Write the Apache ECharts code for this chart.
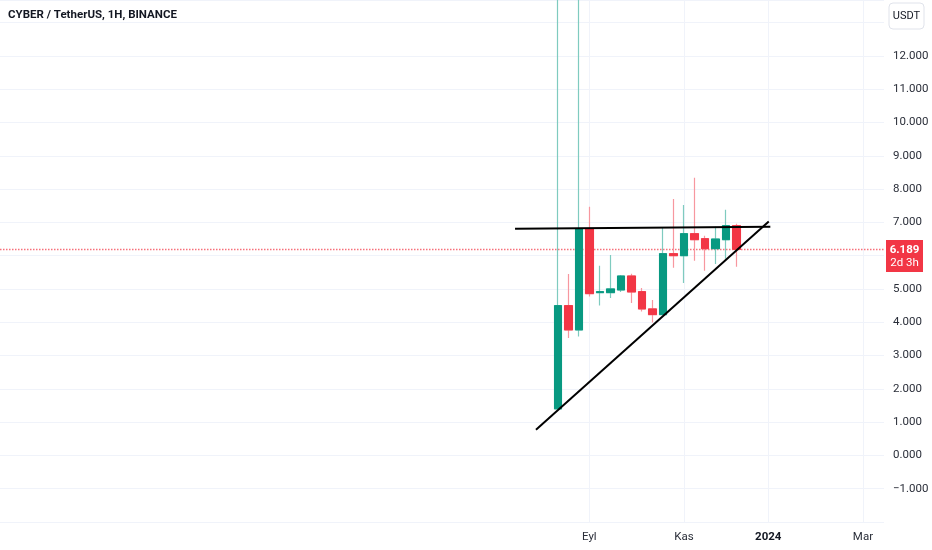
<!DOCTYPE html>
<html><head><meta charset="utf-8">
<script src="https://cdn.jsdelivr.net/npm/echarts@6/dist/echarts.min.js"></script>
<style>html,body{margin:0;padding:0;background:#fff}#c{width:932px;height:550px}</style>
</head><body><div id="c"></div>
<script>
// ---- data ----
const candleDates = ['2023-08-14','2023-08-21','2023-08-28','2023-09-04','2023-09-11','2023-09-18','2023-09-25','2023-10-02','2023-10-09','2023-10-16','2023-10-23','2023-10-30','2023-11-06','2023-11-13','2023-11-20','2023-11-27','2023-12-04','2023-12-11'];
const opens  = [1.40, 4.50, 3.77, 6.81, 4.89, 4.89, 4.97, 5.39, 4.92, 4.40, 4.23, 6.06, 6.00, 6.66, 6.51, 6.21, 6.48, 6.90];
const closes = [4.50, 3.77, 6.81, 4.86, 4.92, 5.00, 5.39, 4.91, 4.40, 4.23, 6.06, 6.00, 6.66, 6.48, 6.21, 6.50, 6.90, 6.189];
const lows   = [1.40, 3.53, 3.57, 4.77, 4.50, 4.73, 4.91, 4.58, 4.32, 3.99, 4.23, 5.64, 5.18, 5.85, 5.55, 5.75, 5.91, 5.67];
const highs  = [30.0, 5.45, 30.0, 7.47, 5.70, 6.02, 5.42, 5.46, 5.03, 4.67, 6.83, 7.70, 7.52, 8.34, 6.60, 6.87, 7.38, 6.96];
const axisStart = '2022-08-08', axisEnd = '2024-03-18';
const tickDates = ['2023-09-04','2023-11-06','2024-01-01','2024-03-04'];
const tickTexts = ['Eyl','Kas','2024','Mar'];
const hiddenPriceLabels = [-2, 6, 13];
const trendTop  = [[48.94, 6.81], [73.2, 6.87]];
const trendRise = [[50.93, 0.77], [73.05, 7.03]];
const lastPrice = 6.189;
const countdown = '2d 3h';
const titleText = 'CYBER / TetherUS, 1H, BINANCE';
const currency = 'USDT';

// ---- build ----
const cats = [];
for (let t = Date.parse(axisStart + 'T00:00:00Z'); t <= Date.parse(axisEnd + 'T00:00:00Z'); t += 7 * 864e5) {
  cats.push(new Date(t).toISOString().slice(0, 10));
}
const full = cats.map(() => '-');
const bodies = cats.map(() => '-');
candleDates.forEach((d, i) => {
  const k = cats.indexOf(d);
  full[k] = [opens[i], closes[i], lows[i], highs[i]];
  bodies[k] = [opens[i], closes[i], Math.min(opens[i], closes[i]), Math.max(opens[i], closes[i])];
});
const UP = '#089981', DOWN = '#f23645';
const UP_WICK = '#7fcbbf', DOWN_WICK = '#f7979f';
const FONT = 'Roboto';
const TXT = '#2a2e39';

const chart = echarts.init(document.getElementById('c'), null, {renderer: 'canvas'});
chart.setOption({
  animation: false,
  backgroundColor: '#ffffff',
  textStyle: {fontFamily: FONT},
  title: {text: titleText, left: 3, top: 4,
    textStyle: {fontFamily: FONT, fontSize: 11.5, fontWeight: 'bold', color: '#131722'}},
  grid: {left: 0, right: 48, top: 0, bottom: 28},
  xAxis: [{
    type: 'category', data: cats, boundaryGap: false,
    axisLine: {show: false}, axisTick: {show: false},
    axisLabel: {
      interval: (idx, v) => tickDates.indexOf(v) >= 0,
      formatter: v => { const i = tickDates.indexOf(v); if (i < 0) return ''; return tickTexts[i] === '2024' ? '{b|' + tickTexts[i] + '}' : tickTexts[i]; },
      color: TXT, fontSize: 11.5, margin: 9, fontFamily: FONT,
      rich: {b: {fontWeight: 'bold', fontSize: 11.5, color: '#131722', fontFamily: FONT}}
    },
    splitLine: {show: true, interval: (idx, v) => tickDates.indexOf(v) >= 0, lineStyle: {color: '#f0f3fa', width: 1}}
  }, {
    type: 'value', min: 0, max: cats.length - 1, show: false
  }],
  yAxis: {
    type: 'value', position: 'right', min: -2, max: 13.68, interval: 1,
    axisLine: {show: false}, axisTick: {show: false},
    axisLabel: {
      margin: 9, fontSize: 11.5, color: TXT, fontFamily: FONT, showMaxLabel: false,
      formatter: v => (Math.abs(v - Math.round(v)) > 1e-6 || hiddenPriceLabels.indexOf(Math.round(v)) >= 0) ? '' : (v < 0 ? '\u2212' : '') + Math.abs(v).toFixed(3)
    },
    splitLine: {lineStyle: {color: '#f0f3fa', width: 1}}
  },
  series: [{
    type: 'candlestick', data: full, barWidth: 8, clip: true, z: 2,
    itemStyle: {color: UP_WICK, color0: DOWN_WICK, borderColor: UP_WICK, borderColor0: DOWN_WICK, borderWidth: 1.2}
  }, {
    type: 'candlestick', data: bodies, barWidth: 8, clip: true, z: 3,
    itemStyle: {color: UP, color0: DOWN, borderColor: UP, borderColor0: DOWN, borderWidth: 1},
    markLine: {silent: true, symbol: ['none', 'none'], label: {show: false}, z: 1,
      lineStyle: {color: '#f7707b', type: [1.5, 1.5], width: 1.3, opacity: 1}, data: [{yAxis: lastPrice}]}
  }, {
    type: 'line', xAxisIndex: 1, data: trendTop, symbol: 'none', z: 4,
    lineStyle: {color: '#000000', width: 2}
  }, {
    type: 'line', xAxisIndex: 1, data: trendRise, symbol: 'none', z: 4,
    lineStyle: {color: '#000000', width: 2}
  }]
});

const py = chart.convertToPixel({yAxisIndex: 0}, lastPrice);
chart.setOption({
  graphic: [{
    type: 'group', children: [
      {type: 'rect', shape: {x: 889, y: 3, width: 35, height: 26, r: 4},
        style: {fill: '#ffffff', stroke: '#e0e3eb', lineWidth: 1}},
      {type: 'text', x: 906.5, y: 16.5, style: {text: currency, fill: '#131722', font: '11px ' + FONT, align: 'center', verticalAlign: 'middle'}},
      {type: 'rect', shape: {x: 886, y: py - 9.5, width: 37, height: 32}, style: {fill: DOWN}},
      {type: 'text', x: 904.5, y: py + 0.5, style: {text: lastPrice.toFixed(3), fill: '#ffffff', font: 'bold 11.5px ' + FONT, align: 'center', verticalAlign: 'middle'}},
      {type: 'text', x: 904.5, y: py + 13.5, style: {text: countdown, fill: '#ffffff', font: '11.5px ' + FONT, align: 'center', verticalAlign: 'middle'}}
    ]
  }]
});
</script>
</body></html>
